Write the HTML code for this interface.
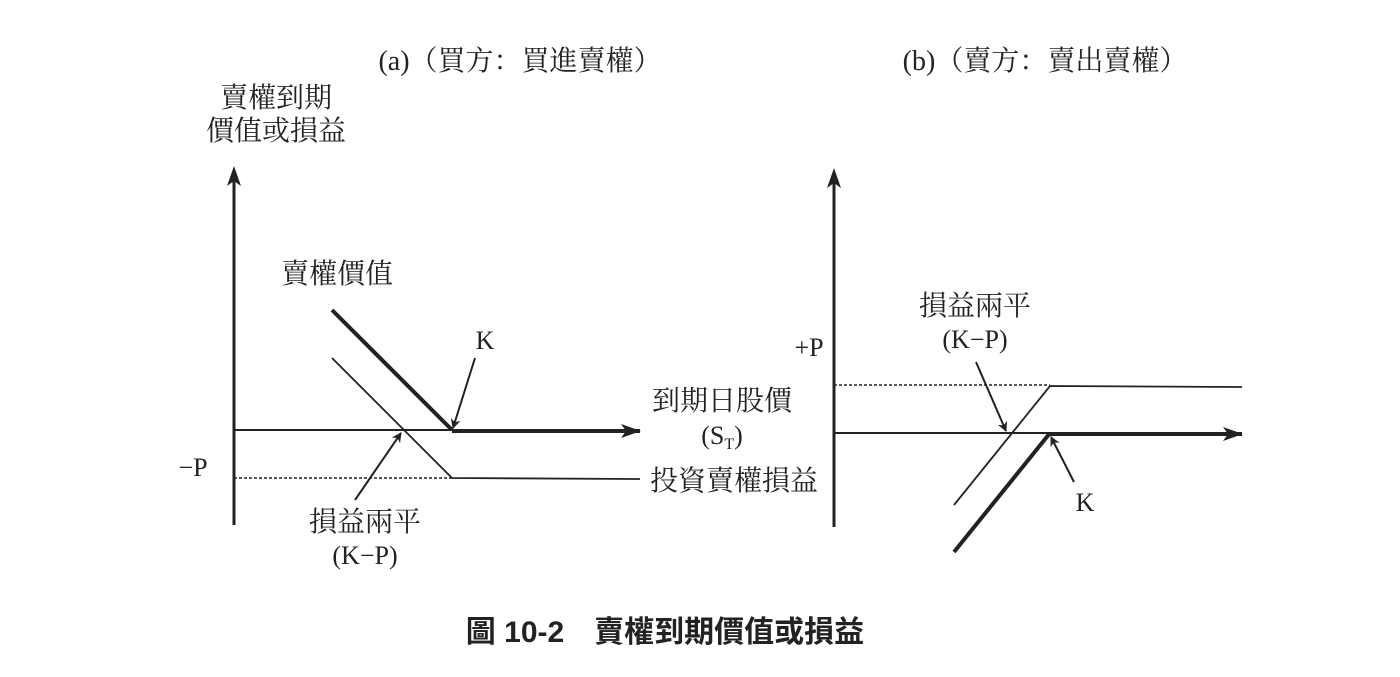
<!DOCTYPE html>
<html><head><meta charset="utf-8"><style>
body{margin:0;background:#fff;}
svg text{font-family:"Liberation Serif","Noto Serif CJK SC","Noto Sans CJK TC",serif;fill:#222;}
.c{font-family:"Liberation Sans","Noto Sans CJK TC",sans-serif !important;}
</style></head><body>
<svg width="1400" height="672" viewBox="0 0 1400 672" xmlns="http://www.w3.org/2000/svg">
<defs>
<marker id="ah" markerWidth="10" markerHeight="10" refX="9" refY="5" orient="auto" markerUnits="userSpaceOnUse"><path d="M0,0 L10,5 L0,10 L3,5 Z" fill="#222"/></marker>
<marker id="big" markerWidth="20" markerHeight="14" refX="19" refY="7" orient="auto" markerUnits="userSpaceOnUse"><path d="M0,0 L20,7 L0,14 L5,7 Z" fill="#222"/></marker>
</defs>
<g stroke="#222" fill="none">
<line x1="234" y1="525" x2="234" y2="172" stroke-width="3"/>
<path d="M227,186 L234,166 L241,186 L234,181 Z" fill="#222" stroke="none"/>
<line x1="234" y1="430" x2="452" y2="430" stroke-width="2"/>
<line x1="452" y1="431" x2="640" y2="431" stroke-width="4" marker-end="url(#big)"/>
<line x1="332" y1="310" x2="452" y2="430" stroke-width="4"/>
<polyline points="332,358 452,478 640,479" stroke-width="1.8"/>
<line x1="234" y1="478" x2="452" y2="478" stroke-width="1.5" stroke-dasharray="3,2"/>
<line x1="475" y1="358" x2="453" y2="428" stroke-width="2" marker-end="url(#ah)"/>
<line x1="355" y1="500" x2="401" y2="433" stroke-width="2" marker-end="url(#ah)"/>
<line x1="834" y1="527" x2="834" y2="174" stroke-width="3"/>
<path d="M827,188 L834,168 L841,188 L834,183 Z" fill="#222" stroke="none"/>
<line x1="834" y1="433" x2="1050" y2="433" stroke-width="2"/>
<line x1="1050" y1="434" x2="1242" y2="434" stroke-width="4" marker-end="url(#big)"/>
<line x1="834" y1="385" x2="1050" y2="385" stroke-width="1.5" stroke-dasharray="3,2"/>
<polyline points="954,505 1050,386 1242,387" stroke-width="1.8"/>
<line x1="954" y1="552" x2="1050" y2="433" stroke-width="4"/>
<line x1="976" y1="362" x2="1006" y2="431" stroke-width="2" marker-end="url(#ah)"/>
<line x1="1074" y1="482" x2="1051" y2="437" stroke-width="2" marker-end="url(#ah)"/>
</g>
<g font-size="28">
<text x="520" y="70" text-anchor="middle">(a)（買方：買進賣權）</text>
<text x="1045" y="70" text-anchor="middle">(b)（賣方：賣出賣權）</text>
<text x="276" y="107" text-anchor="middle">賣權到期</text>
<text x="276" y="140" text-anchor="middle">價值或損益</text>
<text x="337" y="283" text-anchor="middle">賣權價值</text>
<text x="722" y="410" text-anchor="middle">到期日股價</text>
<text x="650" y="490">投資賣權損益</text>
<text x="365" y="531" text-anchor="middle">損益兩平</text>
<text x="975" y="315" text-anchor="middle">損益兩平</text>
</g>
<g font-size="26">
<text x="485" y="349" text-anchor="middle">K</text>
<text x="722" y="444" text-anchor="middle">(S<tspan font-size="16" dy="5">T</tspan><tspan dy="-5">)</tspan></text>
<text x="193" y="476" text-anchor="middle">−P</text>
<text x="365" y="564" text-anchor="middle">(K−P)</text>
<text x="809" y="356" text-anchor="middle">+P</text>
<text x="975" y="348" text-anchor="middle">(K−P)</text>
<text x="1085" y="511" text-anchor="middle">K</text>
</g>
<text class="c" x="665" y="642" font-size="30" font-weight="bold" text-anchor="middle">圖 10-2　賣權到期價值或損益</text>
</svg>
</body></html>
